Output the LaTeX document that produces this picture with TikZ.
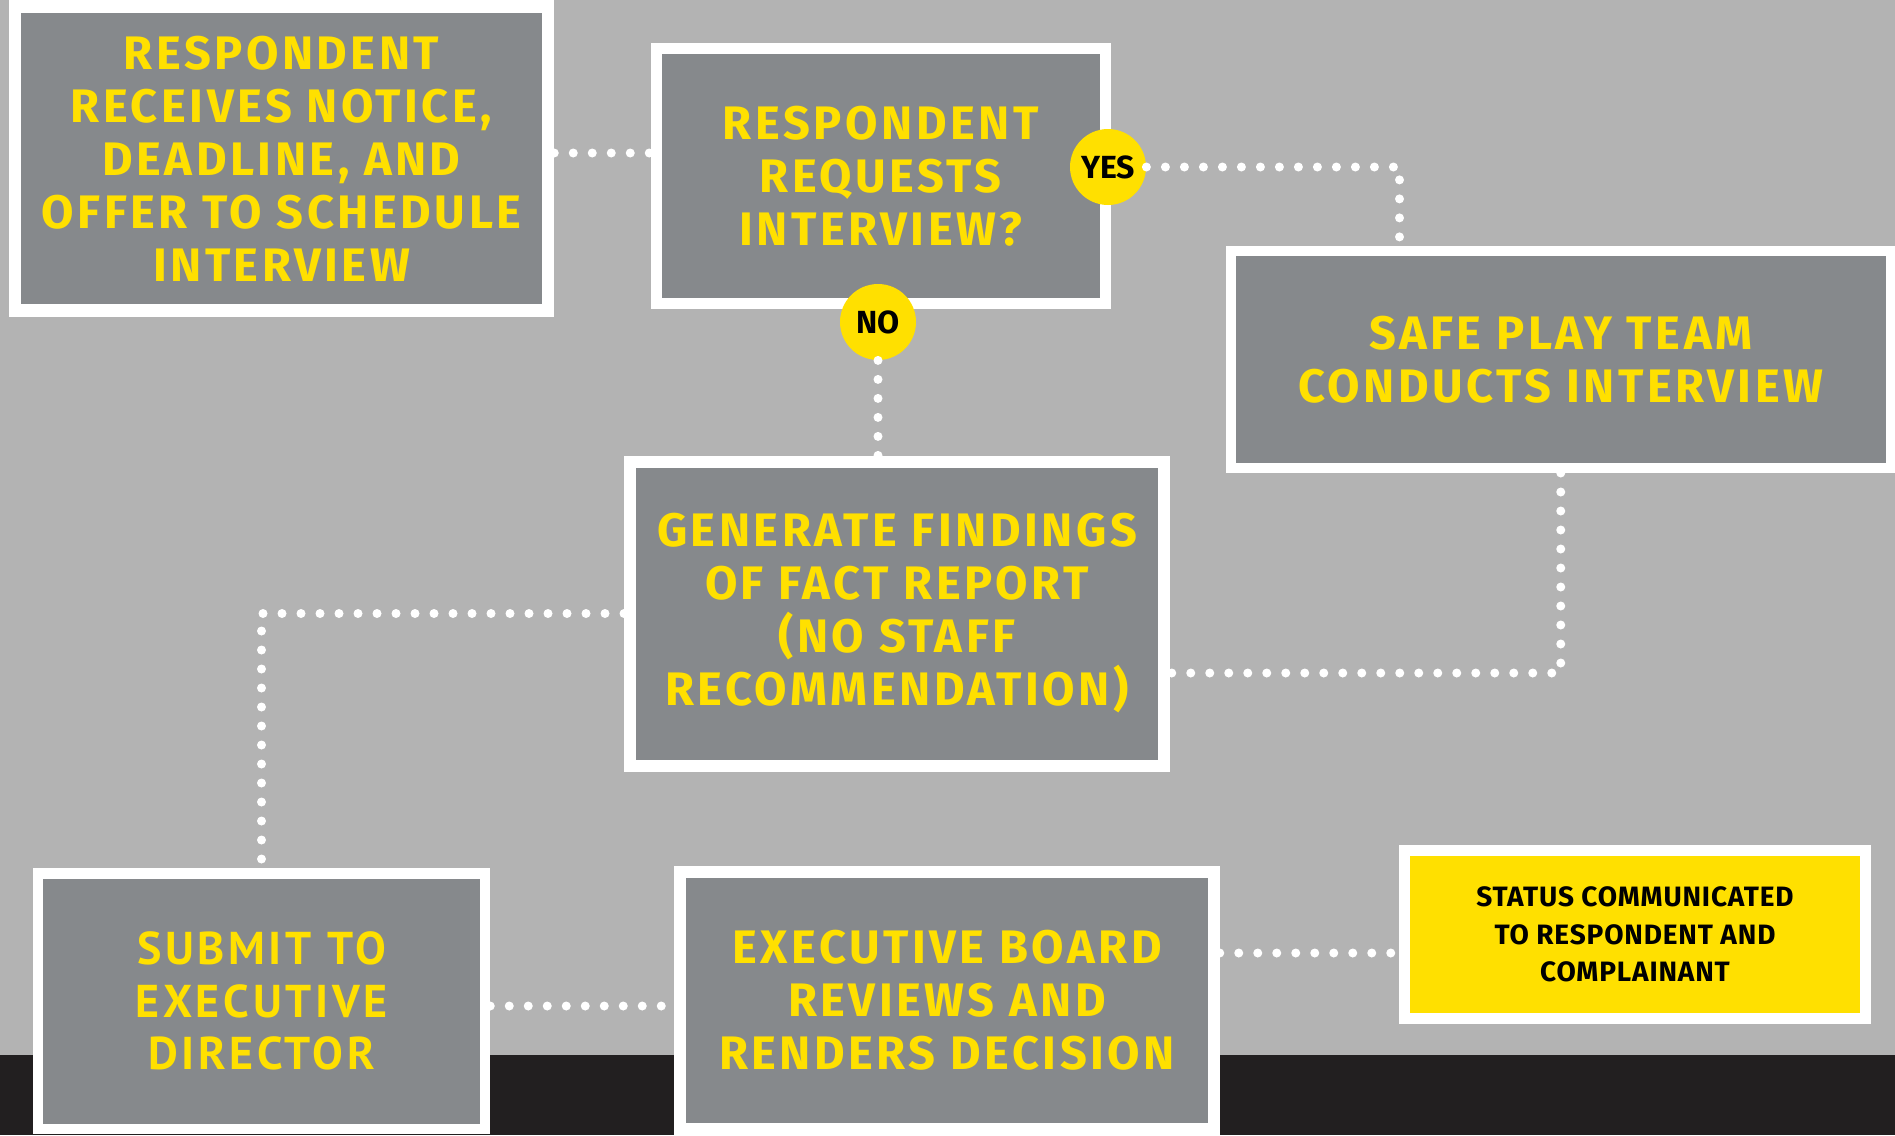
\documentclass[tikz,border=0pt]{standalone}
\usepackage{fontspec}
\setmainfont{Fira Sans}
\newfontfamily\dispfont{Fira Sans}[LetterSpace=7.5]
\newfontfamily\subfont{PT Sans}[LetterSpace=8]
\newfontfamily\statfont{Fira Sans}[LetterSpace=3]
\usetikzlibrary{calc}
\definecolor{bggray}{HTML}{B3B3B3}
\definecolor{boxgray}{HTML}{86898C}
\definecolor{boxyellow}{HTML}{FFE000}
\definecolor{darkband}{HTML}{221F20}
\tikzset{
  box/.style={rectangle, draw=white, fill=boxgray, inner sep=0pt, align=center,
    text=boxyellow, font=\dispfont\bfseries\fontsize{23.5}{26.5}\selectfont},
  dots/.style={draw=white, line width=4.5pt, line cap=round, dash pattern=on 0pt off 9.5pt},
  tag/.style={circle, fill=boxyellow, inner sep=0pt, minimum size=38pt, text=black,
    font=\bfseries\fontsize{16}{18}\selectfont}
}
\begin{document}
\begin{tikzpicture}[x=0.5pt,y=-0.5pt]
\useasboundingbox (0,0) rectangle (1895,1135);
\fill[bggray] (0,0) rectangle (1895,1135);
\fill[darkband] (0,1055) rectangle (1895,1135);

\node[box, minimum width=266.5pt, minimum height=152pt, line width=6.25pt] (b1) at (281.5,158.5)
  {RESPONDENT\\RECEIVES NOTICE,\\DEADLINE, AND\\OFFER TO SCHEDULE\\INTERVIEW};
\node[box, minimum width=224.25pt, minimum height=127.5pt, line width=5.5pt] (b2) at (880.75,176)
  {RESPONDENT\\REQUESTS\\INTERVIEW?};
\node[box, minimum width=330.25pt, minimum height=108.5pt, line width=5pt] (b3) at (1560.75,359.5)
  {SAFE PLAY TEAM\\CONDUCTS INTERVIEW};
\node[box, minimum width=267pt, minimum height=152pt, line width=6pt] (b4) at (897,613.5)
  {GENERATE FINDINGS\\OF FACT REPORT\\(NO STAFF\\RECOMMENDATION)};
\node[box, minimum width=223.5pt, minimum height=127.75pt, line width=5.25pt,
  font=\subfont\bfseries\fontsize{23}{26.25}\selectfont] (b5) at (261.5,1001)
  {SUBMIT TO\\EXECUTIVE\\DIRECTOR};
\node[box, minimum width=266.75pt, minimum height=128.5pt, line width=6pt] (b6) at (947,1000.5)
  {EXECUTIVE BOARD\\REVIEWS AND\\RENDERS DECISION};
\node[box, fill=boxyellow, text=black, minimum width=230.5pt, minimum height=84pt, line width=5.5pt,
  font=\statfont\bfseries\fontsize{14}{18.75}\selectfont] (b7) at (1635,934.5)
  {STATUS COMMUNICATED\\TO RESPONDENT AND\\COMPLAINANT};

\node[tag] (yes) at (1108,167) {YES};
\node[tag] (no) at (878,322) {NO};

\coordinate (s1) at ($(b1.east)+(0,-5.5)$);
\coordinate (s3) at ($(b3.north west)+(174,0)$);
\coordinate (s4) at ($(b4.east)+(0,59.5)$);
\coordinate (s5) at ($(b5.east)+(0,5)$);
\coordinate (s7) at ($(b7.west)+(0,18.5)$);

\draw[dots] (s1) -- (s1 -| b2.west);
\draw[dots] (yes.east) -| (s3);
\draw[dots] (no.south) -- (no.south |- b4.north);
\draw[dots] (b3.south) |- (s4);
\draw[dots] (b4.west) -| (b5.north);
\draw[dots] (s5) -- (s5 -| b6.west);
\draw[dots] (b6.east |- s7) -- (s7);
\end{tikzpicture}
\end{document}
